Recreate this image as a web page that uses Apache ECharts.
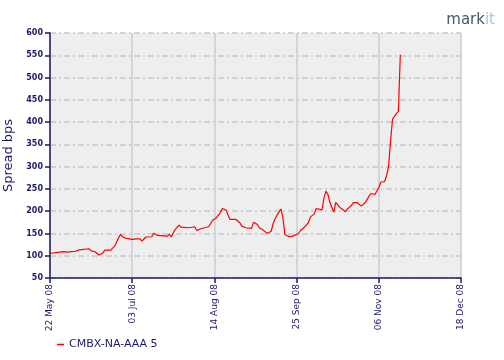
<!DOCTYPE html>
<html><head><meta charset="utf-8">
<script src="https://cdn.jsdelivr.net/npm/echarts@6/dist/echarts.min.js"></script>
<style>html,body{margin:0;padding:0;background:#fff}#c{width:504px;height:360px}</style>
</head><body><div id="c"></div>
<script>
const startDate = '2008-05-22';
const tickLabels = ['22 May 08','03 Jul 08','14 Aug 08','25 Sep 08','06 Nov 08','18 Dec 08'];
const seriesName = 'CMBX-NA-AAA 5';
// day offsets from 22 May 08
const days = [0,1,3,4,5,7,8,9,11,12,13,14,15,16,20,21,22,23,25,26,27,28,31,32,33,34,35,36,37,39,40,42,44,46,47,48,49,52,53,55,56,60,61,62,63,64,65,66,67,68,71,72,74,75,76,77,78,81,82,83,85,86,87,88,89,90,91,92,95,96,97,98,100,101,103,104,106,107,109,110,111,112,113,114,115,116,117,118,119,120,121,122,123,124,125,127,128,130,131,132,133,134,135,136,137,139,140,141,142,143,144,145,146,147,148,149,151,152,154,155,157,158,159,161,162,163,164,165,166,167,168,169,171,172,173,174,175,176,177,178,179];
const spread = [105,107,107,109,108,109,108,108,109,112.6,110,109,113,115.7,115.7,111,111,109,101.5,104.5,106,112.6,112.6,116,121.5,130.5,140,147.8,142.6,139,135,136.6,138,138,133,133,142,142.6,150.7,145.5,144,144,148.5,142,151.6,159,164,168.6,164,162.8,162.8,165,165,156.7,155,160.6,165,165,171.8,179,185,191,196.4,206,208,202.3,191,181.4,181.4,181,174,166.4,162.8,162.8,161.3,175.4,170,162.8,157.4,157.4,150,147,155,171.8,183,191,195,205,185,147.8,144,143,139,144,144,150,156.7,164,165.7,174,186.6,187.5,194,206,202,203,230,245,237.5,220,209,198,220,219,209,205.4,198.7,205,212.8,219,219,217,211.3,219,226,233.7,239.7,244,237.5,241.3,252.5,265,266.6,280,301,357,406,413,419,424,551];
const navy = '#1a1a6e';
const chart = echarts.init(document.getElementById('c'));
chart.setOption({
  animation: false,
  backgroundColor: '#ffffff',
  grid: {left: 50, right: 43, top: 33, bottom: 82, show: true, backgroundColor: '#eeeeee', borderWidth: 0, containLabel: false, outerBoundsMode: 'none'},
  graphic: [{
    type: 'text', right: 9, top: 13,
    style: {rich: {a: {fill: '#3f5b6e', fontSize: 15, fontFamily: 'DejaVu Sans'}, b: {fill: '#aac7d6', fontSize: 15, fontFamily: 'DejaVu Sans'}}, text: '{a|mark}{b|it}'}
  }],
  legend: {
    left: 52, top: 334, icon: 'rect', itemWidth: 7, itemHeight: 1.5, itemGap: 6,
    textStyle: {color: navy, fontSize: 11, fontFamily: 'DejaVu Sans'},
    data: [seriesName]
  },
  xAxis: {
    type: 'value', min: 0, max: 210, interval: 42,
    axisLine: {show: true, onZero: false, lineStyle: {color: navy, width: 1.5}},
    axisTick: {show: true, length: 5, lineStyle: {color: navy, width: 1.5}},
    axisLabel: {rotate: 90, color: navy, fontSize: 9, fontFamily: 'DejaVu Sans', margin: 6,
      formatter: v => tickLabels[Math.round(v / 42)] || ''},
    splitLine: {show: true, lineStyle: {color: '#cccccc', width: 1.5}}
  },
  yAxis: {
    type: 'value', min: 50, max: 600, interval: 50,
    name: 'Spread bps', nameLocation: 'middle', nameGap: 34, nameRotate: 90,
    nameTextStyle: {color: navy, fontSize: 13, fontFamily: 'DejaVu Sans'},
    axisLine: {show: true, lineStyle: {color: navy, width: 1.5}},
    axisTick: {show: true, length: 5, lineStyle: {color: navy, width: 1.5}},
    axisLabel: {color: navy, fontSize: 8, fontFamily: 'DejaVu Sans', fontWeight: 'bold', margin: 7},
    splitLine: {show: true, lineStyle: {color: '#c8c8c8', width: 1.5, type: [6, 3, 2, 3]}}
  },
  series: [{
    name: seriesName, type: 'line', showSymbol: false, symbol: 'none',
    lineStyle: {color: '#ff0000', width: 1.2}, itemStyle: {color: '#ff0000'},
    data: days.map((d, i) => [d, spread[i]])
  }]
});
</script></body></html>
